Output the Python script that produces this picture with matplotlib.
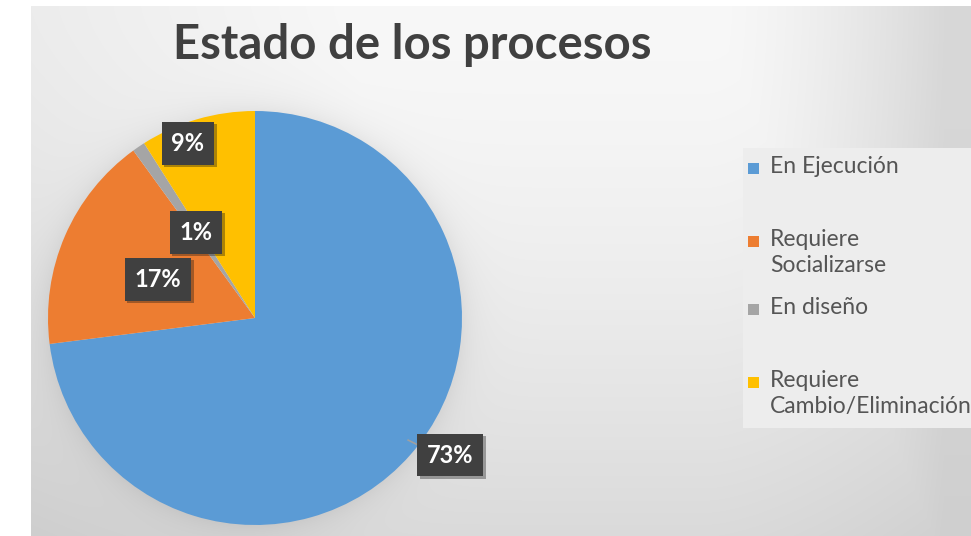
import numpy as np
import matplotlib as mpl
mpl.use('Agg')
import matplotlib.pyplot as plt
import matplotlib.patheffects as pe
from matplotlib.patches import Rectangle

# process states and their shares (%)
estados = ['En Ejecución', 'Requiere\nSocializarse', 'En diseño',
           'Requiere\nCambio/Eliminación']
valores = [73, 17, 1, 9]
colores = ['#5B9BD5', '#ED7D31', '#A5A5A5', '#FFC000']

W, H = 971, 536
cx, cy, r = 255, 318, 207   # pie centre and radius, px

fig = plt.figure(figsize=(W/100, H/100), dpi=100)
fig.patch.set_facecolor('white')

# chart area: light in the upper middle, greyer towards bottom and sides,
# plus a soft halo round the pie
bg = fig.add_axes([31/W, 0, (W-31)/W, (H-6)/H])
px, py = np.meshgrid(np.arange(31, W), np.arange(6, H))
gx = (px-31)/(W-31)
gy = (py-6)/(H-6)
vert = 30*gy**1.5
right = 32*np.clip((gx-0.72)/0.25, 0, 1)**1.5
left = 12*np.clip((0.35-gx)/0.35, 0, 1)
dark = np.maximum(vert, right) + 0.3*np.minimum(vert, right) + left
edge = np.hypot(px-cx, py-cy) - r
dark = dark + 14*np.exp(-np.clip(edge, 0, None)/14)*(edge > -2)
v = np.clip(248 - dark, 0, 255)/255
bg.imshow(np.dstack([v, v, v]), aspect='auto', interpolation='bilinear')
bg.set_axis_off()

# legend panel
fig.patches.append(Rectangle((743/W, 1-428/H), 240/W, 280/H,
                             transform=fig.transFigure,
                             facecolor='#ededed', edgecolor='none'))

fig.text(412/W, 1-45/H, 'Estado de los procesos', ha='center', va='center',
         fontsize=34, fontweight='bold', family='Lato', color='#404040')

# pie
ax = fig.add_axes([(cx-r)/W, (H-cy-r)/H, 2*r/W, 2*r/H])
ax.pie(valores, colors=colores, startangle=90, counterclock=False,
       radius=1, wedgeprops=dict(linewidth=0))
ax.set_xlim(-1, 1)
ax.set_ylim(-1, 1)
ax.set_aspect('auto')
ax.set_axis_off()

# data labels, dark boxes with a small drop shadow
pos = [(0.942, -0.662), (-0.469, 0.188), (-0.285, 0.415), (-0.324, 0.845)]
ax.plot([0.74, 0.80], [-0.59, -0.62], color='#a0a0a0', lw=1.2, clip_on=False)
for val, (x, y) in zip(valores, pos):
    t = ax.text(x, y, '{0}%'.format(val), ha='center', va='center',
                fontsize=17, fontweight='bold', family='Lato', color='white',
                bbox=dict(boxstyle='square,pad=0.42', facecolor='#404040',
                          edgecolor='none'), clip_on=False)
    t.get_bbox_patch().set_path_effects(
        [pe.SimplePatchShadow(offset=(2, -2), alpha=0.35), pe.Normal()])

# legend entries
ly = [168, 241, 309, 382]
for nombre, col, y in zip(estados, colores, ly):
    fig.patches.append(Rectangle((748/W, 1-(y+6)/H), 11/W, 11/H,
                                 transform=fig.transFigure,
                                 facecolor=col, edgecolor='none'))
    fig.text(770/W, 1-(y-12)/H, nombre, ha='left', va='top', fontsize=16.5,
             family='Lato', color='#555555', linespacing=1.3)

fig.savefig('out.png', dpi=100)
